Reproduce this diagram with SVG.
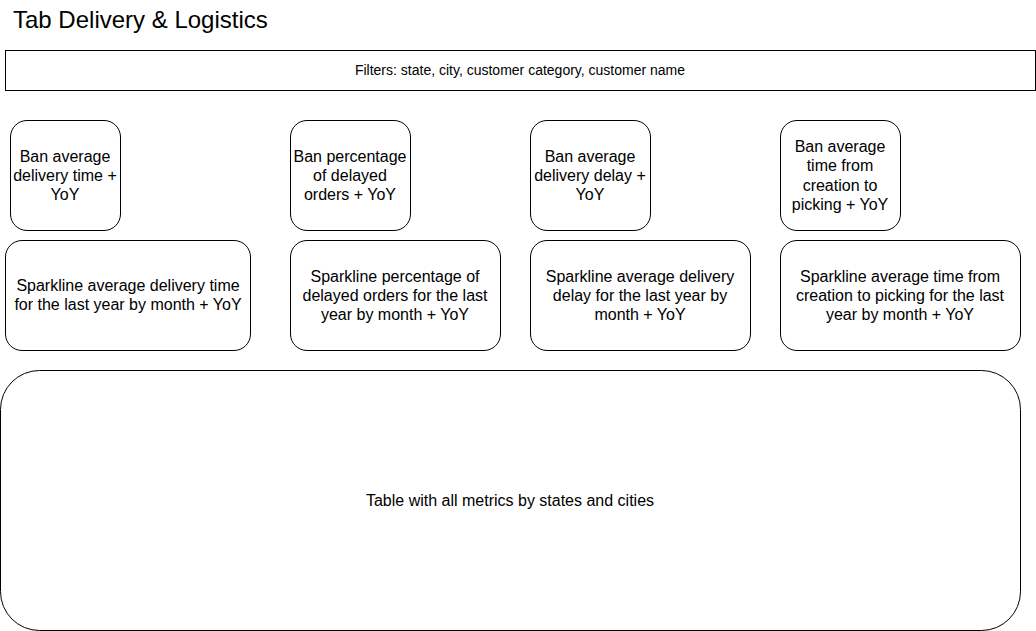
<svg xmlns="http://www.w3.org/2000/svg" width="1036" height="631" viewBox="0 0 1036 631">
<style>
.b{fill:#fff;stroke:#000;stroke-width:1}
.t{font-family:"Liberation Sans",Arial,sans-serif;font-size:16px;fill:#000;text-anchor:middle}
.s{font-size:14px}
</style>
<rect width="1036" height="631" fill="#fff"/>
<text x="13" y="28" style="font-family:'Liberation Sans',Arial,sans-serif;font-size:24px;fill:#000">Tab Delivery &amp; Logistics</text>
<g id="filters"><rect class="b" x="5.5" y="50.5" width="1030" height="40"/><text class="t s" x="520" y="75">Filters: state, city, customer category, customer name</text></g>
<g id="ban1"><rect class="b" x="10.5" y="120.5" width="110" height="110" rx="16.5"/><text class="t" x="65" y="162">Ban average<tspan x="65" dy="19">delivery time +</tspan><tspan x="65" dy="19">YoY</tspan></text></g>
<g id="ban2"><rect class="b" x="290.5" y="120.5" width="120" height="110" rx="16.5"/><text class="t" x="350" y="162">Ban percentage<tspan x="350" dy="19">of delayed</tspan><tspan x="350" dy="19">orders + YoY</tspan></text></g>
<g id="ban3"><rect class="b" x="530.5" y="120.5" width="120" height="110" rx="16.5"/><text class="t" x="590" y="162">Ban average<tspan x="590" dy="19">delivery delay +</tspan><tspan x="590" dy="19">YoY</tspan></text></g>
<g id="ban4"><rect class="b" x="780.5" y="120.5" width="120" height="110" rx="16.5"/><text class="t" x="840" y="152">Ban average<tspan x="840" dy="19.3">time from</tspan><tspan x="840" dy="19.3">creation to</tspan><tspan x="840" dy="19.3">picking + YoY</tspan></text></g>
<g id="spark1"><rect class="b" x="5.5" y="240.5" width="245" height="110" rx="16.5"/><text class="t" x="128" y="291">Sparkline average delivery time<tspan x="128" dy="19">for the last year by month + YoY</tspan></text></g>
<g id="spark2"><rect class="b" x="290.5" y="240.5" width="210" height="110" rx="16.5"/><text class="t" x="395" y="282">Sparkline percentage of<tspan x="395" dy="19">delayed orders for the last</tspan><tspan x="395" dy="19">year by month + YoY</tspan></text></g>
<g id="spark3"><rect class="b" x="530.5" y="240.5" width="220" height="110" rx="16.5"/><text class="t" x="640" y="282">Sparkline average delivery<tspan x="640" dy="19">delay for the last year by</tspan><tspan x="640" dy="19">month + YoY</tspan></text></g>
<g id="spark4"><rect class="b" x="780.5" y="240.5" width="240" height="110" rx="16.5"/><text class="t" x="900" y="282">Sparkline average time from<tspan x="900" dy="19">creation to picking for the last</tspan><tspan x="900" dy="19">year by month + YoY</tspan></text></g>
<g id="table"><rect class="b" x="0.5" y="370.5" width="1020" height="260" rx="39"/><text class="t" x="510" y="506">Table with all metrics by states and cities</text></g>
<g id="connectors"></g>
</svg>
